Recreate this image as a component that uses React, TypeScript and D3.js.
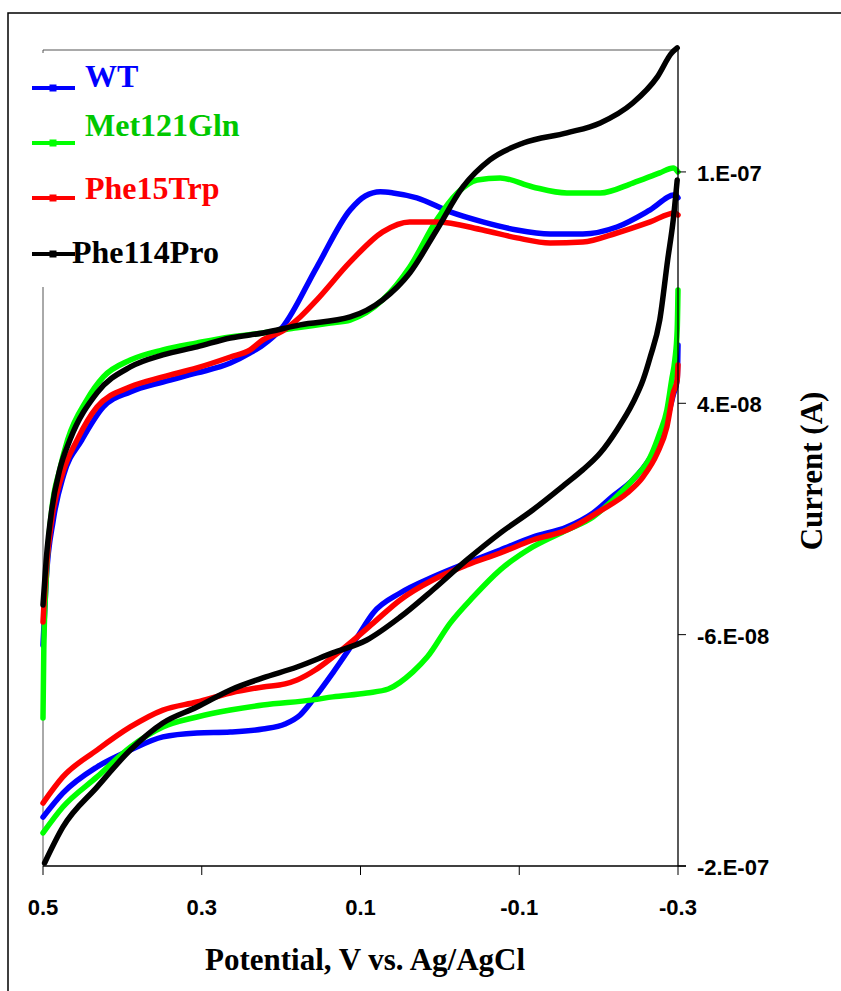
import React from "react";
import * as d3 from "d3";

// Potential (V vs Ag/AgCl), current in nA (1e-9 A)
const seriesNames = ["WT", "Met121Gln", "Phe15Trp", "Phe114Pro"];
const seriesColors = ["#0000FF", "#00FF00", "#FF0000", "#000000"];
const legendTextColors = ["#0000FF", "#00C800", "#FF0000", "#000000"];

const wtForward: [number, number][] = [
  [0.5, -64.5], [0.496, -36.4], [0.487, -10.4], [0.474, 9.0], [0.451, 24.2], [0.424, 38.4],
  [0.39, 44.9], [0.349, 49.2], [0.306, 53.1], [0.264, 57.4], [0.239, 61.8], [0.223, 65.2],
  [0.198, 73.0], [0.155, 98.9], [0.113, 123.6], [0.094, 129.6], [0.075, 131.4],
  [0.059, 130.9], [0.029, 128.8], [-0.013, 122.7], [-0.054, 118.4], [-0.097, 114.9],
  [-0.139, 113.2], [-0.18, 113.2], [-0.223, 116.2], [-0.265, 123.6], [-0.296, 130.1], [-0.3, 128.8],
];
const wtReverse: [number, number][] = [
  [-0.3, 65.2], [-0.299, 50.1], [-0.294, 43.6], [-0.286, 32.8], [-0.277, 24.2], [-0.265, 16.4],
  [-0.243, 6.9], [-0.218, -0.1], [-0.193, -7.4], [-0.16, -13.5], [-0.117, -17.8], [-0.076, -23.4],
  [-0.034, -29.0], [0.009, -35.1], [0.05, -42.0], [0.084, -50.6], [0.104, -61.0], [0.135, -76.6],
  [0.16, -88.2], [0.176, -94.7], [0.195, -98.6], [0.223, -100.8], [0.264, -102.1], [0.306, -102.5],
  [0.349, -104.2], [0.39, -109.9], [0.432, -117.2], [0.475, -128.5], [0.5, -138.9],
];
const metForward: [number, number][] = [
  [0.5, -96.0], [0.499, -66.6], [0.496, -36.4], [0.489, -6.1], [0.479, 11.2], [0.469, 24.2],
  [0.445, 41.4], [0.424, 51.4], [0.39, 58.7], [0.349, 63.1], [0.306, 66.1], [0.264, 68.7],
  [0.223, 70.4], [0.18, 72.6], [0.138, 74.7], [0.113, 76.0], [0.072, 84.7], [0.038, 98.9],
  [0.004, 119.3], [-0.022, 130.9], [-0.047, 136.5], [-0.076, 137.4], [-0.117, 133.5],
  [-0.16, 130.9], [-0.202, 130.9], [-0.243, 135.2], [-0.277, 139.6], [-0.294, 141.7], [-0.3, 140.0],
];
const metReverse: [number, number][] = [
  [-0.3, 89.0], [-0.299, 71.7], [-0.296, 58.7], [-0.292, 50.1], [-0.286, 37.1], [-0.277, 27.2],
  [-0.265, 16.8], [-0.243, 6.9], [-0.218, -1.8], [-0.193, -9.1], [-0.16, -14.8], [-0.117, -22.1],
  [-0.076, -32.0], [-0.042, -43.7], [-0.013, -55.0], [0.016, -69.7], [0.034, -76.1], [0.065, -83.5],
  [0.092, -85.2], [0.135, -86.9], [0.16, -88.2], [0.223, -90.4], [0.264, -92.6], [0.306, -95.6],
  [0.349, -99.9], [0.39, -108.6], [0.432, -121.5], [0.475, -134.5], [0.5, -145.7],
];
const pheTrpForward: [number, number][] = [
  [0.5, -54.5], [0.496, -32.0], [0.489, -10.4], [0.476, 9.0], [0.457, 24.2], [0.432, 38.4],
  [0.39, 47.1], [0.349, 51.4], [0.306, 55.3], [0.264, 60.0], [0.239, 63.1], [0.223, 67.4],
  [0.198, 71.3], [0.176, 77.3], [0.155, 84.7], [0.113, 101.1], [0.072, 114.1], [0.038, 118.4],
  [0.004, 118.4], [-0.054, 114.9], [-0.097, 111.5], [-0.139, 109.3], [-0.18, 109.7], [-0.223, 113.6],
  [-0.265, 118.4], [-0.296, 122.3], [-0.3, 121.4],
];
const pheTrpReverse: [number, number][] = [
  [-0.3, 56.6], [-0.299, 50.1], [-0.294, 44.5], [-0.286, 29.8], [-0.274, 18.5], [-0.256, 8.2],
  [-0.236, 1.2], [-0.202, -6.5], [-0.16, -14.8], [-0.117, -19.1], [-0.076, -24.7],
  [-0.034, -29.9], [0.009, -36.4], [0.05, -45.0], [0.084, -55.0], [0.113, -63.6], [0.135, -69.7],
  [0.157, -75.3], [0.18, -79.6], [0.195, -81.3], [0.223, -82.6], [0.264, -85.2], [0.306, -89.1],
  [0.349, -92.6], [0.39, -99.9], [0.432, -109.9], [0.475, -121.5], [0.5, -132.8],
];
const pheProForward: [number, number][] = [
  [0.5, -47.2], [0.496, -27.7], [0.489, -6.1], [0.479, 11.2], [0.466, 24.2], [0.432, 44.5],
  [0.39, 55.7], [0.349, 60.9], [0.306, 64.4], [0.264, 68.2], [0.223, 70.4], [0.176, 73.9],
  [0.113, 77.3], [0.072, 84.7], [0.038, 96.3], [0.004, 114.9], [-0.029, 133.5], [-0.063, 145.2],
  [-0.105, 152.5], [-0.16, 156.9], [-0.202, 161.2], [-0.243, 169.8], [-0.274, 181.1],
  [-0.292, 191.4], [-0.299, 193.6],
];
const pheProReverse: [number, number][] = [
  [-0.299, 136.5], [-0.294, 119.3], [-0.287, 102.0], [-0.277, 76.0], [-0.265, 60.0], [-0.256, 50.1],
  [-0.243, 40.1], [-0.223, 28.5], [-0.202, 18.5], [-0.18, 11.2], [-0.16, 5.6], [-0.117, -6.1],
  [-0.076, -16.1], [-0.034, -27.7], [0.009, -40.7], [0.05, -52.4], [0.092, -62.3], [0.135, -67.9],
  [0.18, -74.0], [0.223, -78.7], [0.264, -83.9], [0.306, -91.3], [0.349, -98.2], [0.39, -109.9],
  [0.432, -125.9], [0.475, -143.2], [0.498, -158.7],
];

const seriesData = [
  [wtForward, wtReverse],
  [metForward, metReverse],
  [pheTrpForward, pheTrpReverse],
  [pheProForward, pheProReverse],
];

const xTicks = [0.5, 0.3, 0.1, -0.1, -0.3];
const xTickLabels = ["0.5", "0.3", "0.1", "-0.1", "-0.3"];
const yTicks = [140, 40, -60, -160];
const yTickLabels = ["1.E-07", "4.E-08", "-6.E-08", "-2.E-07"];

const serif = "'Liberation Serif', 'Times New Roman', serif";
const sans = "'Liberation Sans', Arial, sans-serif";

export default function App() {
  const left = 43, right = 678, top = 50, bottom = 866;
  const x = d3.scaleLinear().domain([0.5, -0.3]).range([left, right]);
  const y = d3.scaleLinear().domain([-160, 192.7]).range([bottom, top]);
  const line = d3
    .line<[number, number]>()
    .x((d) => x(d[0]))
    .y((d) => y(d[1]))
    .curve(d3.curveMonotoneX);

  const legendRows = [88, 143, 198, 254];
  const legendTextY = [87, 136, 199, 263];
  const legendTextX = [85, 85, 85, 72];

  return (
    <svg
      width={841}
      height={991}
      style={{ position: "absolute", left: 0, top: 0, background: "#fff" }}
    >
      <rect x={0} y={0} width={841} height={991} fill="#fff" />
      {/* outer frame */}
      <rect x={8} y={13} width={900} height={1000} fill="none" stroke="#000" strokeWidth={1.5} />

      {/* plot area border */}
      <line x1={left} y1={top} x2={right} y2={top} stroke="#555" strokeWidth={1} />
      <line x1={left} y1={top} x2={left} y2={bottom} stroke="#555" strokeWidth={1} />

      {/* series */}
      {seriesData.map((branches, i) =>
        branches.map((b, j) => (
          <path
            key={`${i}-${j}`}
            d={line(b) || ""}
            fill="none"
            stroke={seriesColors[i]}
            strokeWidth={5.5}
            strokeLinejoin="round"
            strokeLinecap="round"
          />
        ))
      )}

      {/* x axis */}
      <line x1={left} y1={bottom} x2={right + 8} y2={bottom} stroke="#000" strokeWidth={1.5} />
      {xTicks.map((t, i) => (
        <g key={`xt${i}`}>
          <line x1={x(t)} y1={bottom} x2={x(t)} y2={bottom + 9} stroke="#000" strokeWidth={1} />
          <text
            x={x(t)}
            y={915}
            textAnchor="middle"
            fontFamily={sans}
            fontWeight="bold"
            fontSize={22}
          >
            {xTickLabels[i]}
          </text>
        </g>
      ))}

      {/* y axis (right) */}
      <line x1={right} y1={top} x2={right} y2={bottom} stroke="#000" strokeWidth={1.3} />
      {yTicks.map((t, i) => (
        <g key={`yt${i}`}>
          <line x1={right} y1={y(t)} x2={right + 8} y2={y(t)} stroke="#000" strokeWidth={1} />
          <text
            x={697}
            y={y(t) + 9}
            fontFamily={sans}
            fontWeight="bold"
            fontSize={22}
          >
            {yTickLabels[i]}
          </text>
        </g>
      ))}

      {/* axis titles */}
      <text
        x={365}
        y={970}
        textAnchor="middle"
        fontFamily={serif}
        fontWeight="bold"
        fontSize={31}
      >
        Potential, V vs. Ag/AgCl
      </text>
      <text
        transform="translate(822,471) rotate(-90)"
        textAnchor="middle"
        fontFamily={serif}
        fontWeight="bold"
        fontSize={31}
      >
        Current (A)
      </text>

      {/* legend */}
      <rect x={20} y={53} width={230} height={234} fill="#fff" />
      {seriesNames.map((name, i) => (
        <g key={`lg${i}`}>
          <line
            x1={32}
            y1={legendRows[i]}
            x2={75}
            y2={legendRows[i]}
            stroke={seriesColors[i]}
            strokeWidth={4}
          />
          <rect
            x={50}
            y={legendRows[i] - 3}
            width={6}
            height={6}
            fill={seriesColors[i]}
            stroke={seriesColors[i]}
          />
          <text
            x={legendTextX[i]}
            y={legendTextY[i]}
            fontFamily={serif}
            fontWeight="bold"
            fontSize={32}
            fill={legendTextColors[i]}
          >
            {name}
          </text>
        </g>
      ))}
    </svg>
  );
}
